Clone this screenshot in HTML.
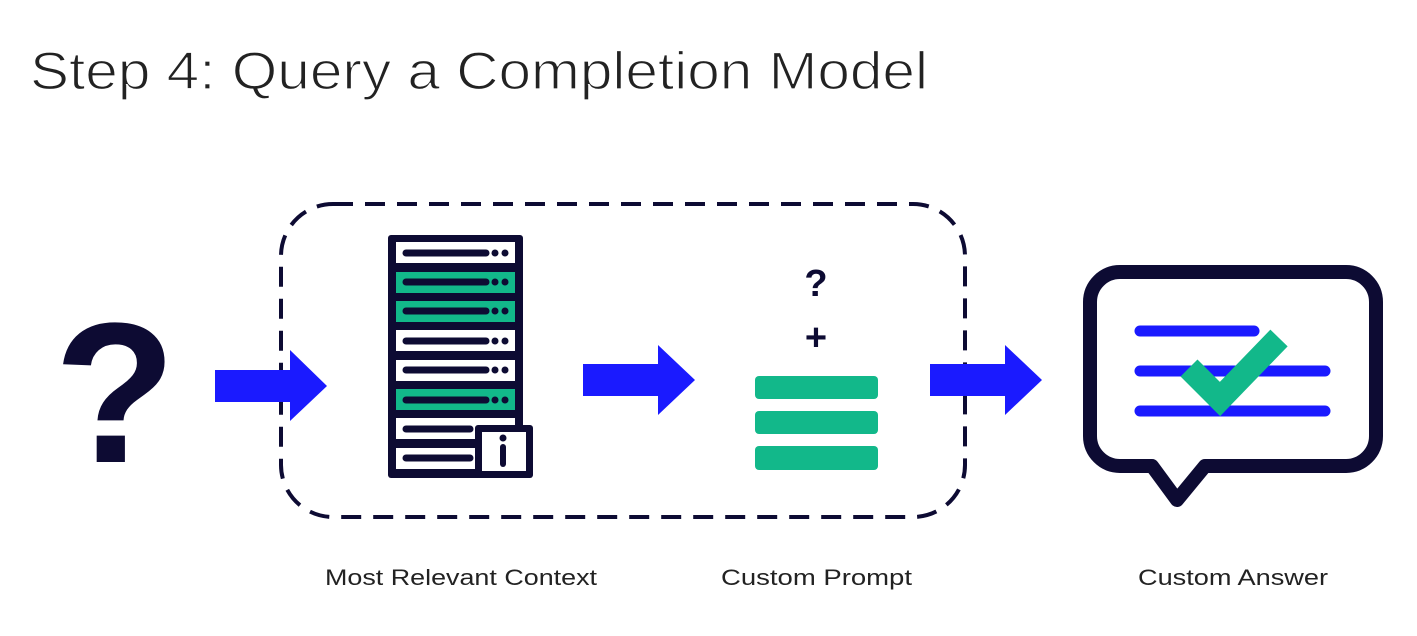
<!DOCTYPE html>
<html><head><meta charset="utf-8"><style>body{margin:0;background:#fff}svg{display:block}</style></head><body>
<svg width="1417" height="636" viewBox="0 0 1417 636" xmlns="http://www.w3.org/2000/svg" font-family="Liberation Sans, sans-serif">
<text x="30" y="89" font-size="53" fill="#222" stroke="#fff" stroke-width="1.3" textLength="898" lengthAdjust="spacingAndGlyphs">Step 4: Query a Completion Model</text>
<rect x="281" y="204" width="684" height="313" rx="52" fill="none" stroke="#0d0b33" stroke-width="4" stroke-dasharray="20 12"/>
<text x="115" y="462" font-size="200" font-weight="bold" fill="#0d0b33" text-anchor="middle">?</text>
<g fill="#1a1aff">
<path d="M215 370H290V350L327 386L290 421V402H215Z"/>
<path d="M583 364H658V345L695 380L658 415V396H583Z"/>
<path d="M930 364H1005V345L1042 380L1005 415V396H930Z"/>
</g>
<rect x="388" y="235" width="135" height="243" rx="3" fill="#0d0b33"/>
<g>
<rect x="396" y="242" width="119" height="21" fill="#fff"/>
<rect x="396" y="272" width="119" height="21" fill="#12b88a"/>
<rect x="396" y="301" width="119" height="21" fill="#12b88a"/>
<rect x="396" y="330" width="119" height="21" fill="#fff"/>
<rect x="396" y="360" width="119" height="21" fill="#fff"/>
<rect x="396" y="389" width="119" height="21" fill="#12b88a"/>
<rect x="396" y="418" width="119" height="21" fill="#fff"/>
<rect x="396" y="448" width="119" height="21" fill="#fff"/>
</g>
<g stroke="#0d0b33" stroke-width="7" stroke-linecap="round">
<line x1="406" y1="253" x2="486" y2="253"/><line x1="406" y1="282" x2="486" y2="282"/><line x1="406" y1="311" x2="486" y2="311"/><line x1="406" y1="341" x2="486" y2="341"/><line x1="406" y1="370" x2="486" y2="370"/><line x1="406" y1="400" x2="486" y2="400"/><line x1="406" y1="429" x2="470" y2="429"/><line x1="406" y1="458" x2="470" y2="458"/>
</g>
<g fill="#0d0b33">
<circle cx="495" cy="253" r="3.5"/><circle cx="505" cy="253" r="3.5"/>
<circle cx="495" cy="282" r="3.5"/><circle cx="505" cy="282" r="3.5"/>
<circle cx="495" cy="311" r="3.5"/><circle cx="505" cy="311" r="3.5"/>
<circle cx="495" cy="341" r="3.5"/><circle cx="505" cy="341" r="3.5"/>
<circle cx="495" cy="370" r="3.5"/><circle cx="505" cy="370" r="3.5"/>
<circle cx="495" cy="400" r="3.5"/><circle cx="505" cy="400" r="3.5"/>
</g>
<rect x="475" y="425" width="58" height="53" rx="3" fill="#0d0b33"/>
<rect x="482" y="432" width="44" height="39" fill="#fff"/>
<circle cx="503" cy="438" r="3.5" fill="#0d0b33"/>
<line x1="503" y1="447" x2="503" y2="464" stroke="#0d0b33" stroke-width="6" stroke-linecap="round"/>
<text x="816" y="296" font-size="38" font-weight="bold" fill="#0d0b33" text-anchor="middle">?</text>
<text x="816" y="350" font-size="38" font-weight="bold" fill="#0d0b33" text-anchor="middle">+</text>
<g fill="#12b88a">
<rect x="755" y="376" width="123" height="23" rx="4"/>
<rect x="755" y="411" width="123" height="23" rx="4"/>
<rect x="755" y="446" width="123" height="24" rx="4"/>
</g>
<path d="M1120 272H1346A30 30 0 0 1 1376 302V436A30 30 0 0 1 1346 466H1205L1177 500L1152 466H1120A30 30 0 0 1 1090 436V302A30 30 0 0 1 1120 272Z" fill="#fff" stroke="#0d0b33" stroke-width="14" stroke-linejoin="round"/>
<g stroke="#1a1aff" stroke-width="11" stroke-linecap="round">
<line x1="1140" y1="331" x2="1254" y2="331"/>
<line x1="1140" y1="371" x2="1325" y2="371"/>
<line x1="1140" y1="411" x2="1325" y2="411"/>
</g>
<path d="M1189 368L1220 399L1279 338" fill="none" stroke="#12b88a" stroke-width="24"/>
<g font-size="22" fill="#222">
<text x="325" y="585" textLength="272" lengthAdjust="spacingAndGlyphs">Most Relevant Context</text>
<text x="721" y="585" textLength="191" lengthAdjust="spacingAndGlyphs">Custom Prompt</text>
<text x="1138" y="585" textLength="190" lengthAdjust="spacingAndGlyphs">Custom Answer</text>
</g>
</svg>
</body></html>
